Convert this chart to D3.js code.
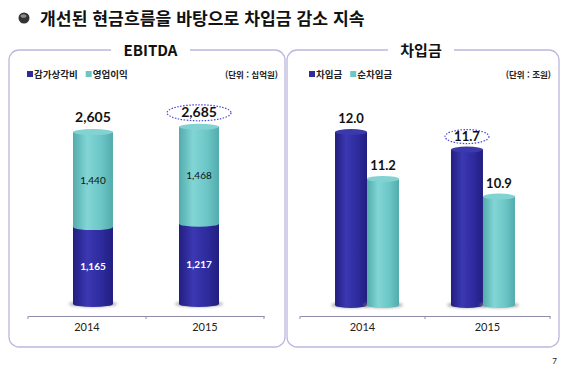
<!DOCTYPE html>
<html lang="ko">
<head>
<meta charset="UTF-8">
<title>차입금 감소 지속</title>
<style>
  body { margin: 0; background: #fff; }
  svg { display: block; }
  .kr { font-family: "Noto Sans CJK KR", "Noto Sans", sans-serif; }
  .num { font-family: Lato, "Open Sans", sans-serif; }
</style>
</head>
<body>
<svg id="chart" width="567" height="370"></svg>
<script src="https://d3js.org/d3.v7.min.js"></script>
<script>
// EBITDA (단위: 십억원)
const years = ["2014", "2015"];
const depreciation = [1165, 1217];   // 감가상각비
const operatingProfit = [1440, 1468]; // 영업이익
const ebitdaTotal = [2605, 2685];

// 차입금 (단위: 조원)
const borrowings = [12.0, 11.7];      // 차입금
const netBorrowings = [11.2, 10.9];   // 순차입금

const svg = d3.select("#chart");
const defs = svg.append("defs");

function cylGrad(id, dark, mid, light) {
  const g = defs.append("linearGradient").attr("id", id)
    .attr("x1", "0%").attr("x2", "100%").attr("y1", "0%").attr("y2", "0%");
  g.append("stop").attr("offset", "0%").attr("stop-color", dark);
  g.append("stop").attr("offset", "35%").attr("stop-color", light);
  g.append("stop").attr("offset", "70%").attr("stop-color", mid);
  g.append("stop").attr("offset", "100%").attr("stop-color", dark);
}
cylGrad("gBlue", "#211e80", "#2e2b9e", "#3b38b2");
cylGrad("gCyan", "#52abac", "#6cc6c6", "#82d5d5");
const blur = defs.append("filter").attr("id", "shadow").attr("x", "-50%").attr("y", "-200%")
  .attr("width", "200%").attr("height", "500%");
blur.append("feGaussianBlur").attr("stdDeviation", 1.5);

const BLUE = "#2e2b9e", CYAN = "#6cc6c6";

// title
svg.append("circle").attr("cx", 24).attr("cy", 18).attr("r", 5.5).attr("fill", "#333");
svg.append("ellipse").attr("cx", 23.5).attr("cy", 16).attr("rx", 3).attr("ry", 1.8).attr("fill", "#8a8a8a");
svg.append("text").attr("class", "kr").attr("x", 40).attr("y", 24.5)
  .attr("font-size", 17.2).attr("font-weight", "bold").attr("fill", "#111")
  .text("개선된 현금흐름을 바탕으로 차입금 감소 지속");

// panel frame with gap for its title
function panel(x0, x1, title, gap0, gap1) {
  const y0 = 50, y1 = 347, r = 10;
  const p = d3.path();
  p.moveTo(gap0, y0);
  p.lineTo(x0 + r, y0);
  p.arcTo(x0, y0, x0, y0 + r, r);
  p.lineTo(x0, y1 - r);
  p.arcTo(x0, y1, x0 + r, y1, r);
  p.lineTo(x1 - r, y1);
  p.arcTo(x1, y1, x1, y1 - r, r);
  p.lineTo(x1, y0 + r);
  p.arcTo(x1, y0, x1 - r, y0, r);
  p.lineTo(gap1, y0);
  svg.append("path").attr("d", p.toString()).attr("fill", "none")
    .attr("stroke", "#bbb9de").attr("stroke-width", 1.3);
  svg.append("text").attr("class", "kr").attr("x", (gap0 + gap1) / 2).attr("y", 56)
    .attr("text-anchor", "middle").attr("font-size", 15).attr("font-weight", "bold")
    .attr("fill", "#111").text(title);
}
panel(9, 285, "EBITDA", 111, 190);
panel(287, 559, "차입금", 388, 454);

function legend(x, items, unit, unitX) {
  let cx = x;
  items.forEach(([label, color]) => {
    svg.append("rect").attr("x", cx).attr("y", 71).attr("width", 6).attr("height", 6).attr("fill", color);
    const t = svg.append("text").attr("class", "kr").attr("x", cx + 7).attr("y", 77.5)
      .attr("font-size", 9.5).attr("font-weight", "bold").attr("fill", "#222").text(label);
    cx += 7 + t.node().getComputedTextLength() + 8;
  });
  svg.append("text").attr("class", "kr").attr("x", unitX).attr("y", 78)
    .attr("text-anchor", "end").attr("font-size", 8.5).attr("font-weight", "bold")
    .attr("fill", "#222").text(unit);
}
legend(27, [["감가상각비", BLUE], ["영업이익", CYAN]], "(단위 : 십억원)", 278);
legend(309, [["차입금", BLUE], ["순차입금", CYAN]], "(단위 : 조원)", 551);

function cylinder(x, w, yTop, yBot, grad, capColor, withShadow) {
  const ry = 3;
  if (withShadow) {
    svg.append("ellipse").attr("cx", x + w / 2).attr("cy", yBot).attr("rx", w / 2 + 4).attr("ry", 3)
      .attr("fill", "#888").attr("opacity", 0.7).attr("filter", "url(#shadow)");
  }
  svg.append("path")
    .attr("d", `M${x},${yTop} L${x},${yBot} A${w / 2},${ry} 0 0 0 ${x + w},${yBot} L${x + w},${yTop} Z`)
    .attr("fill", `url(#${grad})`);
  if (capColor) {
    svg.append("ellipse").attr("cx", x + w / 2).attr("cy", yTop).attr("rx", w / 2).attr("ry", ry)
      .attr("fill", capColor);
  }
}

function axis(x0, x1, xScale) {
  const g = svg.append("g").attr("transform", "translate(0,316)");
  g.call(d3.axisBottom(xScale).tickSize(0).tickPadding(7))
    .call(s => s.select(".domain").attr("stroke", "#8e8ca8"))
    .call(s => s.selectAll("text").attr("class", "num").attr("font-size", 11)
      .attr("fill", "#222").attr("font-family", "Lato, sans-serif"));
  [x0, (x0 + x1) / 2, x1].forEach(x => {
    g.append("line").attr("x1", x).attr("x2", x).attr("y1", 0).attr("y2", 3).attr("stroke", "#8e8ca8");
  });
}

// ----- EBITDA stacked cylinders -----
const xL = d3.scaleBand().domain(years).range([28, 264]);
const xLbar = d3.scalePoint().domain(years).range([28, 264]).padding(0.613);
const yL = d3.scaleLinear().domain([0, 3000]).range([304, 106]);
const bwL = 40;
axis(28, 264, xL);

years.forEach((yr, i) => {
  const x = xLbar(yr) - bwL / 2;
  const yMid = yL(depreciation[i]);
  const yTop = yL(depreciation[i] + operatingProfit[i]);
  cylinder(x, bwL, yMid, yL(0), "gBlue", null, true);
  cylinder(x, bwL, yTop, yMid, "gCyan", "#82d2d2", false);
  const cx = x + bwL / 2;
  svg.append("text").attr("class", "num").attr("x", cx).attr("y", (yL(0) + yMid) / 2 + 4)
    .attr("text-anchor", "middle").attr("font-size", 10).attr("font-weight", "bold")
    .attr("fill", "#fff").text(d3.format(",")(depreciation[i]));
  svg.append("text").attr("class", "num").attr("x", cx).attr("y", (yMid + yTop) / 2 + 4)
    .attr("text-anchor", "middle").attr("font-size", 10).attr("fill", "#111")
    .text(d3.format(",")(operatingProfit[i]));
  svg.append("text").attr("class", "num").attr("x", cx).attr("y", yTop - 10)
    .attr("text-anchor", "middle").attr("font-size", 14).attr("font-weight", "bold")
    .attr("fill", "#111").text(d3.format(",")(ebitdaTotal[i]));
  if (i === 1) {
    svg.append("ellipse").attr("cx", cx).attr("cy", yTop - 14).attr("rx", 32).attr("ry", 8)
      .attr("fill", "none").attr("stroke", "#4b48d0").attr("stroke-width", 1.2)
      .attr("stroke-dasharray", "1.5,1.5");
  }
});

// ----- 차입금 grouped cylinders -----
const xR = d3.scaleBand().domain(years).range([300, 550]);
const xRbar = d3.scalePoint().domain(years).range([300, 550]).padding(0.578);
const yR = d3.scaleLinear().domain([9.05, 12.0]).range([305, 132]);
const bwR = 32;
axis(300, 550, xR);

years.forEach((yr, i) => {
  const mid = xRbar(yr);
  [[borrowings[i], "gBlue", "#3b39ab", mid - bwR],
   [netBorrowings[i], "gCyan", "#82d2d2", mid]].forEach(([v, grad, cap, x], j) => {
    cylinder(x, bwR, yR(v), yR.range()[0], grad, cap, true);
    svg.append("text").attr("class", "num").attr("x", x + bwR / 2).attr("y", yR(v) - 9)
      .attr("text-anchor", "middle").attr("font-size", 13).attr("font-weight", "bold")
      .attr("fill", "#111").text(d3.format(".1f")(v));
    if (i === 1 && j === 0) {
      svg.append("ellipse").attr("cx", x + bwR / 2).attr("cy", yR(v) - 13).attr("rx", 22).attr("ry", 7)
        .attr("fill", "none").attr("stroke", "#4b48d0").attr("stroke-width", 1.2)
        .attr("stroke-dasharray", "1.5,1.5");
    }
  });
});

svg.append("text").attr("class", "num").attr("x", 557).attr("y", 364)
  .attr("text-anchor", "end").attr("font-size", 8).attr("fill", "#222").text("7");
</script>
</body>
</html>
